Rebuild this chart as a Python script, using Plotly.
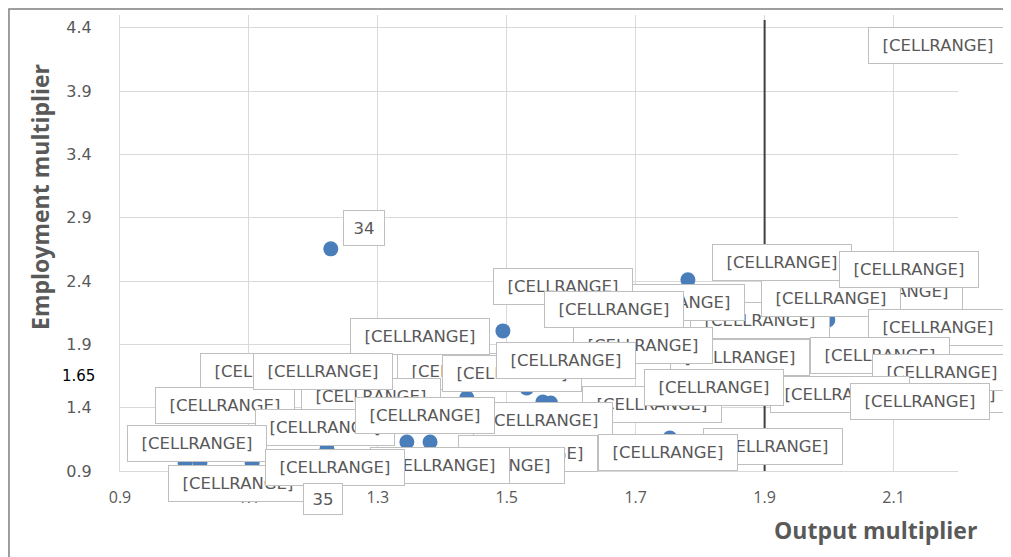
import plotly.graph_objects as go

# Data (drawing order of labels back-to-front)
output_multiplier = [1.998, 1.781, 1.816, 1.926, 2.046, 2.092, 1.227, 1.683, 1.509, 1.494,
                     2.091, 1.784, 1.633, 2.002, 2.094, 2.098, 1.939, 2.063, 1.556, 1.568,
                     1.360, 1.438, 1.531, 1.288, 1.055, 1.105, 1.212, 1.137, 1.140, 1.001,
                     1.345, 1.295, 1.455, 1.461, 1.381, 1.836, 1.753, 1.024, 1.221, 1.230]
employment_multiplier = [2.093, 2.409, 2.037, 2.211, 2.440, 4.210, 2.654, 2.180, 2.306, 2.006,
                         1.982, 1.745, 1.840, 1.761, 1.453, 1.627, 1.453, 1.398, 1.445, 1.437,
                         1.642, 1.477, 1.556, 1.911, 1.635, 0.963, 1.437, 1.642, 1.200, 0.963,
                         1.129, 1.287, 0.987, 1.113, 1.129, 1.050, 1.161, 0.963, 1.074, 0.910]
point_labels = ["[CELLRANGE]"] * 6 + ["34"] + ["[CELLRANGE]"] * 32 + ["35"]

x_ticks = [0.9, 1.1, 1.3, 1.5, 1.7, 1.9, 2.1]
y_ticks = [0.9, 1.4, 1.9, 2.4, 2.9, 3.4, 3.9, 4.4]
threshold_x = 1.9
threshold_y = 1.65

# Label pixel offsets (layout only)
label_xshift = [65, 94, 50, 50, 50, 50, 33, 50, 50, 111,
                50, 50, 50, 50, 50, 50, 50, 50, 109, 163,
                50, 45, 39, 50, 50, -27, 50, 50, 50, 12,
                136, 50, 50, 13, 10, 50, -2, 38, 8, -10]
label_yshift = [28, 17, 6, 6, 6, 6, 21, 6, 6, 21,
                6, 6, 6, 6, 6, 6, 6, 6, -3, 15,
                6, 24, 27, 6, 6, 58, 6, 6, 6, 20,
                21, 6, 6, -21, -24, 6, -15, -20, -19, -29]

GRAY = "#595959"
GRID = "#d9d9d9"
FONT = "Open Sans"
LFONT = "DejaVu Sans"

fig = go.Figure()
fig.add_trace(go.Scatter(
    x=output_multiplier, y=employment_multiplier, mode="markers",
    marker=dict(size=15, color="#4A7EBB"), showlegend=False, hoverinfo="x+y"))

annotations = []
for xv, yv, t, dx, dy in zip(output_multiplier, employment_multiplier, point_labels,
                             label_xshift, label_yshift):
    wide = t.startswith("[")
    annotations.append(dict(
        x=xv, y=yv, xref="x", yref="y", text=t, showarrow=False,
        xshift=dx, yshift=dy, xanchor="center", yanchor="middle",
        width=128 if wide else (30 if t == "34" else 28),
        height=25 if wide else (24 if t == "34" else 20),
        borderpad=5, borderwidth=1, bordercolor="#bfbfbf", bgcolor="white",
        font=dict(family=LFONT, size=16.5, color=GRAY)))

annotations.append(dict(x=-0.028, y=threshold_y, xref="paper", yref="y", text="1.65",
                        showarrow=False, xanchor="right", yanchor="middle",
                        font=dict(family=LFONT, size=15, color="#000000")))
annotations.append(dict(x=-0.0955, y=0.601, xref="paper", yref="paper",
                        text="<b>Employment multiplier</b>", textangle=-90, showarrow=False,
                        xanchor="center", yanchor="middle",
                        font=dict(family=FONT, size=23, color=GRAY)))
annotations.append(dict(x=0.902, y=-0.129, xref="paper", yref="paper",
                        text="<b>Output multiplier</b>", showarrow=False,
                        xanchor="center", yanchor="middle",
                        font=dict(family=FONT, size=23, color=GRAY)))

shapes = [
    dict(type="line", xref="x", yref="y", x0=threshold_x, x1=threshold_x, y0=0.9, y1=4.46,
         line=dict(color="#404040", width=2)),
    dict(type="rect", xref="paper", yref="paper", x0=-0.1325, x1=1.08, y0=-0.22, y1=1.0132,
         line=dict(color="#7f7f7f", width=1.5), layer="below"),
]

fig.update_layout(
    width=1003, height=549,
    margin=dict(l=112, r=53, t=7, b=86),
    paper_bgcolor="white", plot_bgcolor="white",
    annotations=annotations, shapes=shapes,
    xaxis=dict(range=[0.9, 2.2], tickvals=x_ticks, ticktext=[f"{v:.1f}" for v in x_ticks],
               showgrid=True, gridcolor=GRID, gridwidth=1, zeroline=False,
               showline=True, linecolor=GRID, linewidth=1,
               tickfont=dict(family=FONT, size=16, color=GRAY), ticklabelstandoff=12),
    yaxis=dict(range=[0.9, 4.5], tickvals=y_ticks, ticktext=[f"{v:.1f}" for v in y_ticks],
               showgrid=True, gridcolor=GRID, gridwidth=1, zeroline=False,
               showline=True, linecolor=GRID, linewidth=1,
               tickfont=dict(family=LFONT, size=16, color=GRAY), ticklabelstandoff=24),
)

fig.write_html("out.html")
